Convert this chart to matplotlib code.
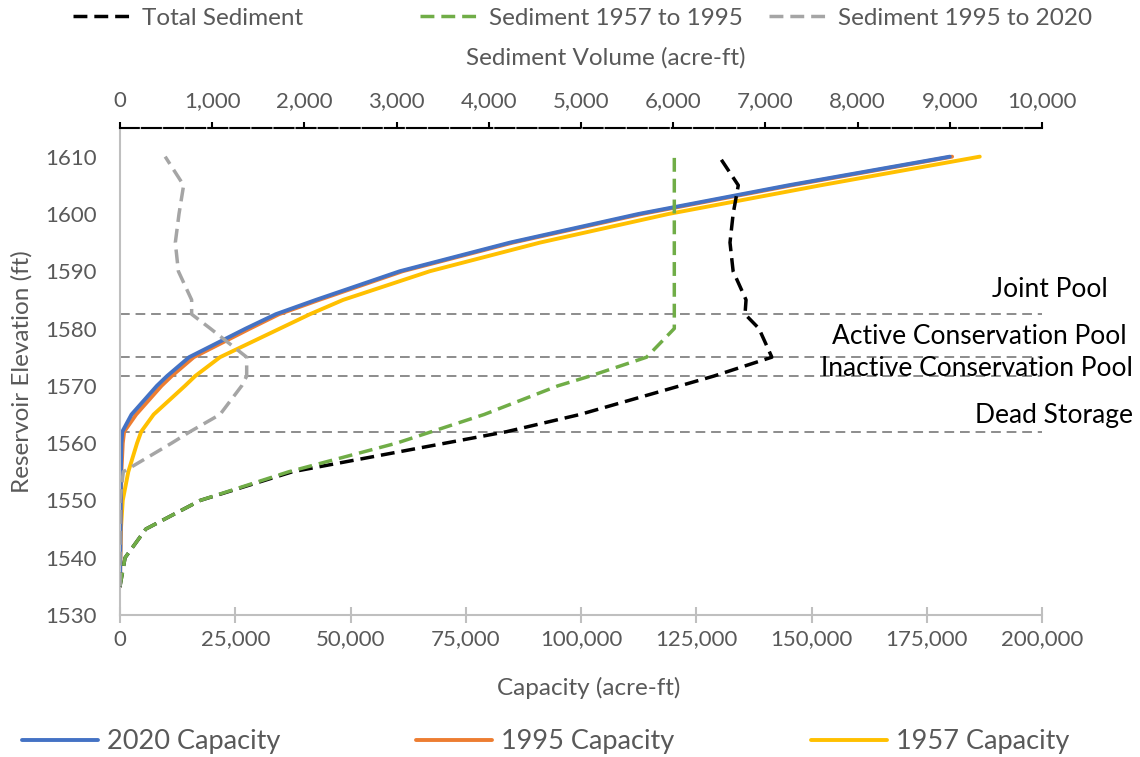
import matplotlib.pyplot as plt
from matplotlib.ticker import FuncFormatter, MultipleLocator

plt.rcParams['font.family'] = ['Lato', 'DejaVu Sans']

# Elevation (ft) at which capacity and sediment were tabulated
elev = [1535, 1540, 1545, 1550, 1555, 1560, 1562, 1565, 1570, 1571.7, 1575,
        1580, 1582.5, 1585, 1590, 1595, 1600, 1605, 1610]

# Storage capacity (acre-ft)
cap_2020 = [0, 50, 100, 150, 200, 300, 500, 2500, 8000, 10200, 15000,
            27300, 33800, 42500, 60700, 84600, 112500, 145000, 180000]
cap_1995 = [0, 100, 150, 200, 300, 600, 900, 3500, 9000, 11200, 16000,
            28200, 34500, 43200, 61300, 85200, 113200, 145700, 180500]
cap_1957 = [0, 0, 200, 600, 1800, 3700, 4600, 7300, 14100, 16300, 21700,
            34700, 41200, 48400, 67200, 91100, 119000, 152000, 186500]

# Sediment volume (acre-ft)
sed_total = [0, 55, 280, 870, 1870, 3530, 4194, 4989, 6074, 6440, 7070,
             6930, 6779, 6790, 6650, 6616, 6650, 6706, 6500]
sed_57_95 = [0, 55, 280, 870, 1830, 3000, 3380, 3950, 4750, 5098, 5712,
             6012, 6012, 6012, 6012, 6012, 6012, 6012, 6012]
sed_95_20 = [0, 0, 0, 0, 36, 560, 760, 1085, 1320, 1374, 1374,
             980, 777, 777, 633, 600, 640, 690, 490]

# Pool boundaries
pool_names = ['Joint Pool', 'Active Conservation Pool',
              'Inactive Conservation Pool', 'Dead Storage']
pool_elev = [1582.5, 1575, 1571.7, 1562]

TXT = '#595959'
AXC = '#bfbfbf'

fig = plt.figure(figsize=(11.4, 7.57), dpi=100)
ax = fig.add_axes([120 / 1140, 142 / 757, 922 / 1140, 487 / 757])
ax.set_xlim(0, 200000)
ax.set_ylim(1530, 1615)

for y in pool_elev:
    ax.axhline(y, color='#8c8c8c', lw=1.4, ls=(0, (5, 3)), zorder=1)

l57, = ax.plot(cap_1957, elev, color='#FFC000', lw=2.8, zorder=2,
               solid_capstyle='round', label='1957 Capacity')
l95, = ax.plot(cap_1995, elev, color='#ED7D31', lw=2.8, zorder=2.1,
               solid_capstyle='round', label='1995 Capacity')
l20, = ax.plot(cap_2020, elev, color='#4472C4', lw=2.8, zorder=2.2,
               solid_capstyle='round', label='2020 Capacity')

ax.xaxis.set_major_locator(MultipleLocator(25000))
ax.xaxis.set_major_formatter(FuncFormatter(lambda v, p: f'{v:,.0f}'))
ax.tick_params(axis='x', direction='inout', length=11, width=1.5,
               color=AXC, labelcolor=TXT, labelsize=16, pad=5)
ax.tick_params(axis='y', length=0, labelcolor=TXT, labelsize=16, pad=17)
ax.set_yticks(range(1530, 1611, 10))
for s in ['left', 'bottom', 'top']:
    ax.spines[s].set_color(AXC)
    ax.spines[s].set_linewidth(1.5)
ax.spines['right'].set_visible(False)

ax.set_xlabel('Capacity (acre-ft)', color=TXT, fontsize=17.5)
ax.xaxis.set_label_coords(0.508, -0.15)
ax.xaxis.label.set_va('center')
ax.set_ylabel('Reservoir Elevation (ft)', color=TXT, fontsize=17.5)
ax.yaxis.set_label_coords(-0.107, 0.50)
ax.yaxis.label.set_va('center')

for name, y, xr, yt in zip(pool_names, pool_elev,
                           [1.0716, 1.092, 1.0987, 1.0987],
                           [1586.8, 1578.6, 1573.0, 1564.9]):
    ax.text(xr, yt, name, transform=ax.get_yaxis_transform(), ha='right',
            va='center', fontsize=19, color='black', clip_on=False)

# Sediment on the secondary (top) axis
ax2 = ax.twiny()
ax2.set_xlim(0, 10000)
lt, = ax2.plot(sed_total, elev, color='black', lw=2.5, ls=(0, (4, 2)),
               label='Total Sediment')
lg, = ax2.plot(sed_57_95, elev, color='#70AD47', lw=2.5, ls=(0, (4, 2)),
               label='Sediment 1957 to 1995')
lq, = ax2.plot(sed_95_20, elev, color='#A5A5A5', lw=2.5, ls=(0, (4, 2)),
               label='Sediment 1995 to 2020')
ax2.xaxis.set_major_locator(MultipleLocator(1000))
ax2.xaxis.set_major_formatter(FuncFormatter(lambda v, p: f'{v:,.0f}'))
ax2.tick_params(axis='x', direction='out', length=4.5, width=1.5,
                color='black', labelcolor=TXT, labelsize=16, pad=8)
for s in ['left', 'bottom', 'right']:
    ax2.spines[s].set_visible(False)
ax2.spines['top'].set_color('black')
ax2.spines['top'].set_linewidth(1.5)
ax2.spines['top'].set_linestyle((0, (9, 1.6)))
ax2.set_xlabel('Sediment Volume (acre-ft)', color=TXT, fontsize=17.5)
ax2.xaxis.set_label_coords(0.527, 1.1437)
ax2.xaxis.label.set_va('center')

# One legend entry per series so each sits at its own column
def entry(line, x, y, hl, pad, size):
    fig.legend([line], [line.get_label()], loc='center left',
               bbox_to_anchor=(x / 1140, 1 - y / 757), frameon=False,
               borderpad=0, borderaxespad=0, handlelength=hl,
               handletextpad=pad, fontsize=size, labelcolor=TXT)

for line, x in zip([lt, lg, lq], [73, 420, 769]):
    entry(line, x, 18, 2.4, 0.45, 17.5)
for line, x in zip([l20, l95, l57], [22, 416, 811]):
    entry(line, x, 742, 2.8, 0.33, 19.5)

fig.savefig('out.png', dpi=100)
